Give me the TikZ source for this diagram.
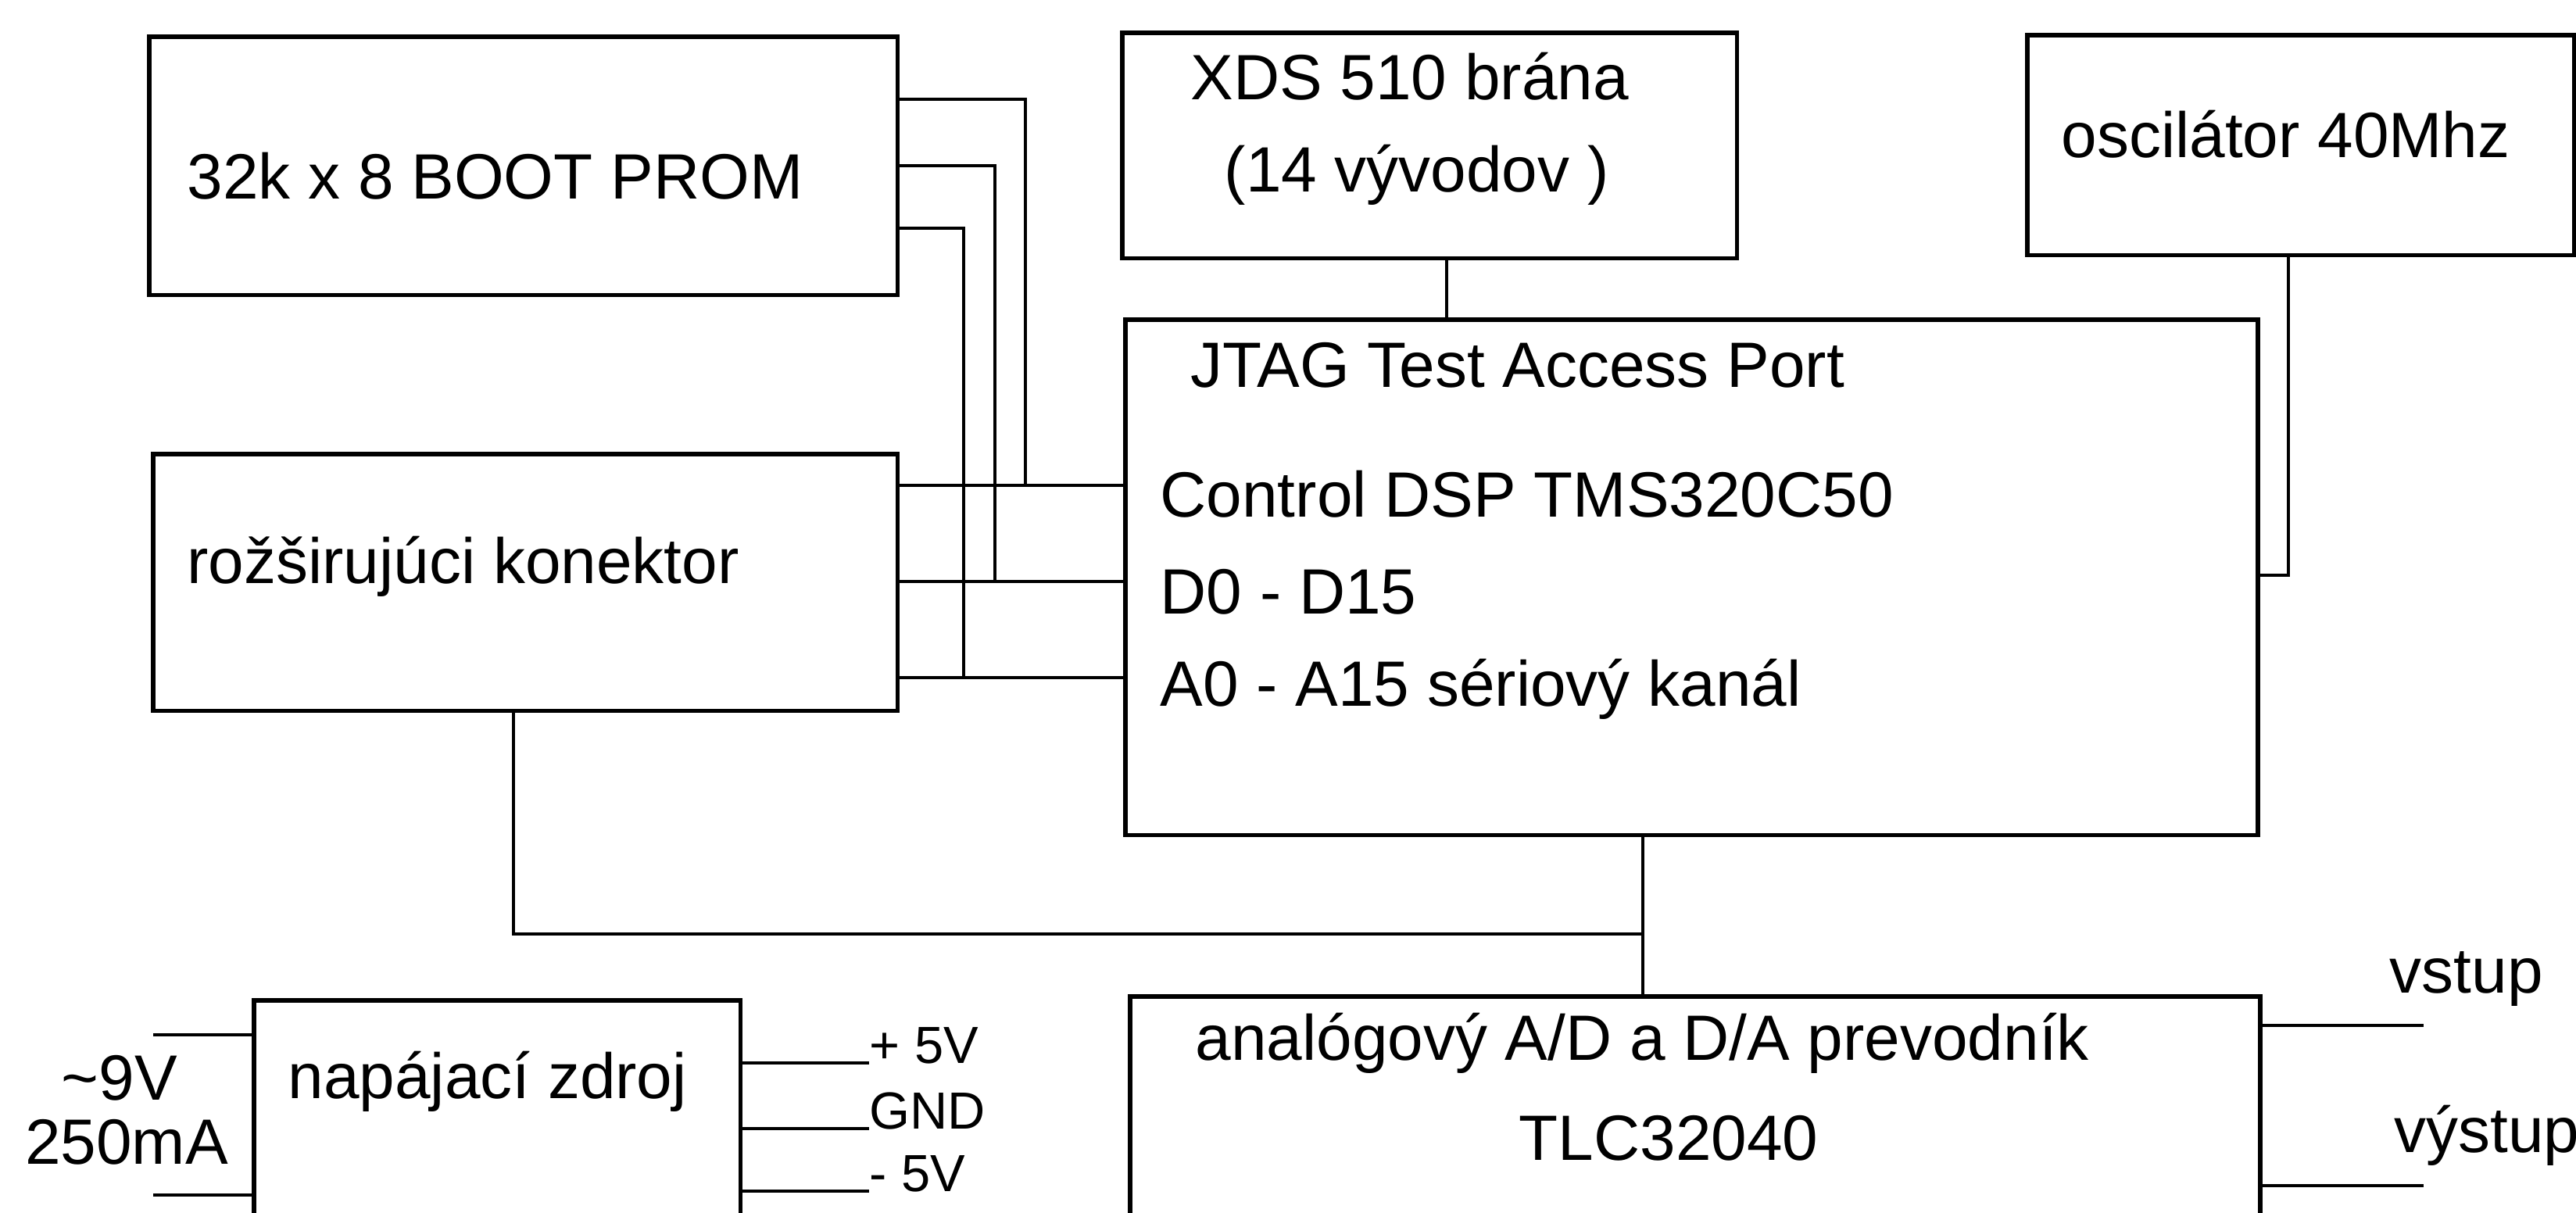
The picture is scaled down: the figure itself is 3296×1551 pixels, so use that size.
\documentclass[tikz,border=0pt]{standalone}
\usepackage{fontspec}
\setmainfont{Liberation Sans}
\begin{document}
\begin{tikzpicture}[x=0.01cm,y=-0.01cm,
  blk/.style={draw, line width=1.5pt, anchor=north west, inner sep=0pt, outer sep=0pt},
  wire/.style={line width=1.2pt},
  txt/.style={anchor=base west, inner sep=0pt, font=\fontsize{23.3}{28}\selectfont},
  ctxt/.style={anchor=base, inner sep=0pt, font=\fontsize{23.3}{28}\selectfont},
  stxt/.style={anchor=base west, inner sep=0pt, font=\fontsize{19}{23}\selectfont}]
\useasboundingbox (0,0) rectangle (3296,1551);
\clip (0,0) rectangle (3296,1551);
\fill[white] (0,0) rectangle (3296,1551);

% boxes
\node[blk, minimum width=9.57cm, minimum height=3.30cm] (prom) at (191,47) {};
\node[blk, minimum width=7.86cm, minimum height=2.88cm] (xds) at (1436,42) {};
\node[blk, minimum width=6.99cm, minimum height=2.81cm] (osc) at (2594,45) {};
\node[blk, minimum width=14.48cm, minimum height=6.59cm] (jtag) at (1440,409) {};
\node[blk, minimum width=9.52cm, minimum height=3.28cm] (rozs) at (196,581) {};
\node[blk, minimum width=6.22cm, minimum height=4.00cm] (psu) at (325,1280) {};
\node[blk, minimum width=14.45cm, minimum height=4.00cm] (adc) at (1446,1275) {};

% texts
\node[txt] (tprom) at (239,254) {32k x 8 BOOT PROM};
\node[txt] (txds1) at (1523,127) {XDS 510 brána};
\node[txt] (txds2) at (1566,245) {(14 vývodov )};
\node[txt] (tosc) at (2637,201) {oscilátor 40Mhz};
\node[txt] (tj1) at (1523,495) {JTAG Test Access Port};
\node[txt] (tj2) at (1484,661) {Control DSP TMS320C50};
\node[txt] (tj3) at (1484,785) {D0 - D15};
\node[txt] (tj4) at (1484,903) {A0 - A15 sériový kanál};
\node[txt] (trozs) at (239,746) {rožširujúci konektor};
\node[txt] (tpsu) at (368,1405) {napájací zdroj};
\node[ctxt] (tin1) at (153,1407) {\textasciitilde 9V};
\node[ctxt] (tin2) at (162,1489) {250mA};
\node[stxt] (tp5) at (1112,1360) {+ 5V};
\node[stxt] (tgnd) at (1112,1444) {GND};
\node[stxt] (tm5) at (1112,1524) {- 5V};
\node[txt] (tadc1) at (1529,1356) {analógový A/D a D/A prevodník};
\node[txt] (tadc2) at (1943,1484) {TLC32040};
\node[txt] (tvst) at (3057,1270) {vstup};
\node[txt] (tvyst) at (3063,1474) {výstup};

% bend points
\coordinate (wa) at (1312,621);
\coordinate (wb) at (1273,744);
\coordinate (wc) at (1233,867);
\coordinate (jb) at (2102,1195);

% PROM to bus lines
\draw[wire] (prom.east |- 0,127) -| (wa);
\draw[wire] (prom.east |- 0,212) -| (wb);
\draw[wire] (prom.east |- 0,292) -| (wc);
% connector to JTAG
\draw[wire] (rozs.east |- wa) -- (jtag.west |- wa);
\draw[wire] (rozs.east |- wb) -- (jtag.west |- wb);
\draw[wire] (rozs.east |- wc) -- (jtag.west |- wc);
% XDS to JTAG
\draw[wire] (xds.south -| 1851,0) -- (jtag.north -| 1851,0);
% oscillator to JTAG
\draw[wire] (osc.south -| 2928,0) |- (jtag.east |- 0,736);
% JTAG to ADC
\draw[wire] (jtag.south -| jb) -- (adc.north -| jb);
\draw[wire] (rozs.south -| 657,0) |- (jb);
% power supply
\draw[wire] (psu.west |- 0,1324) -- (196,1324);
\draw[wire] (psu.west |- 0,1529) -- (196,1529);
\draw[wire] (psu.east |- 0,1360) -- (tp5.base west);
\draw[wire] (psu.east |- 0,1444) -- (tgnd.base west);
\draw[wire] (psu.east |- 0,1524) -- (tm5.base west);
% ADC in/out
\draw[wire] (adc.east |- 0,1312) -- (3101,1312);
\draw[wire] (adc.east |- 0,1517) -- (3101,1517);
\end{tikzpicture}
\end{document}
